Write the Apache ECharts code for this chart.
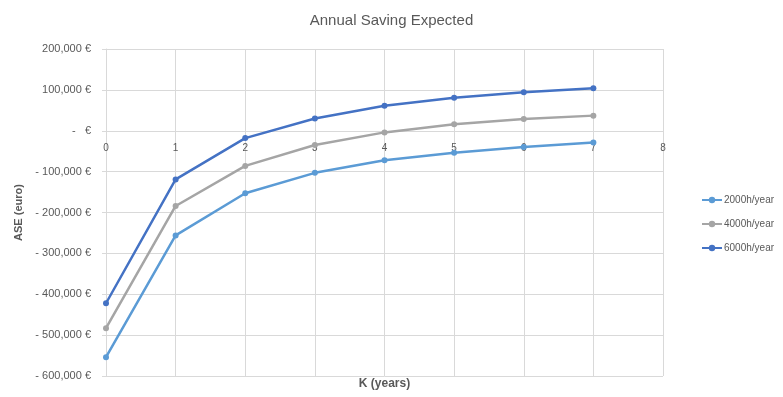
<!DOCTYPE html>
<html>
<head>
<meta charset="utf-8">
<script src="https://cdn.jsdelivr.net/npm/echarts@6/dist/echarts.min.js"></script>
<style>
  html, body { margin: 0; padding: 0; background: #fff; }
  #chart { width: 783px; height: 397px; }
</style>
</head>
<body>
<div id="chart"></div>
<script>
// Years of operation (K)
const years = [0, 1, 2, 3, 4, 5, 6, 7];

// Annual saving expected (euro) for each operating regime
const save2000 = [-554000, -256000, -153000, -103000, -72000, -54000, -40000, -29000];
const save4000 = [-483000, -184000, -86000, -35000, -4000, 16000, 29000, 37000];
const save6000 = [-422000, -119000, -18000, 30000, 61000, 81000, 94000, 104000];

const seriesNames = ['2000h/year', '4000h/year', '6000h/year'];
const seriesColors = ['#5B9BD5', '#A5A5A5', '#4472C4'];

// Value range of the saving axis
const Y_MIN = -600000;
const Y_MAX = 200000;
const Y_STEP = 100000;

const FONT = "'Liberation Sans', Arial, sans-serif";
const TEXT = '#595959';
const GRID = '#D9D9D9';

// Plot area edges in px
const W = 783, H = 397;
const PLOT = { left: 106, right: 120, top: 49, bottom: 21 };
const plotH = H - PLOT.top - PLOT.bottom;

// Lift the year axis from the bottom edge up to the zero line
const zeroOffset = -plotH * (0 - Y_MIN) / (Y_MAX - Y_MIN);

function euro(v) {
  if (v === 0) return '-   €';
  const s = Math.abs(v).toLocaleString('en-US');
  return (v < 0 ? '- ' : '') + s + ' €';
}

function pairs(vals) {
  return years.map((k, i) => [k, vals[i]]);
}

const chart = echarts.init(document.getElementById('chart'), null, { renderer: 'canvas' });

chart.setOption({
  animation: false,
  backgroundColor: '#fff',
  textStyle: { fontFamily: FONT },
  title: [
    {
      text: 'Annual Saving Expected',
      left: 'center',
      top: 8,
      textStyle: { fontFamily: FONT, fontSize: 15, fontWeight: 'normal', color: TEXT }
    },
    {
      // horizontal axis caption, centred under the plot area
      text: 'K (years)',
      left: (PLOT.left + (W - PLOT.right)) / 2,
      textAlign: 'center',
      top: 378,
      padding: 0,
      textStyle: { fontFamily: FONT, fontSize: 12, fontWeight: 'bold', color: TEXT }
    }
  ],
  legend: {
    orient: 'vertical',
    left: 696,
    top: 190,
    itemGap: 14,
    itemWidth: 20,
    itemHeight: 8,
    data: seriesNames,
    textStyle: { fontFamily: FONT, fontSize: 10, color: TEXT, padding: [0, 0, 0, -3] }
  },
  grid: { left: PLOT.left, right: PLOT.right, top: PLOT.top, bottom: PLOT.bottom, containLabel: false },
  xAxis: {
    type: 'value',
    min: 0,
    max: 8,
    interval: 1,
    position: 'bottom',
    offset: zeroOffset,
    z: 0,
    axisLine: { onZero: false, lineStyle: { color: GRID, width: 1 } },
    axisTick: { show: false },
    axisLabel: { color: TEXT, fontSize: 10, margin: 12, fontFamily: FONT },
    splitLine: { show: true, lineStyle: { color: GRID, width: 1 } }
  },
  yAxis: {
    type: 'value',
    min: Y_MIN,
    max: Y_MAX,
    interval: Y_STEP,
    name: 'ASE (euro)',
    nameLocation: 'middle',
    nameGap: 82,
    nameTextStyle: { fontFamily: FONT, fontSize: 11, fontWeight: 'bold', color: TEXT },
    axisLine: { show: true, onZero: false, lineStyle: { color: GRID } },
    axisTick: { show: true, length: 4, lineStyle: { color: GRID } },
    axisLabel: { color: TEXT, fontSize: 11, margin: 15, formatter: euro, fontFamily: FONT },
    splitLine: { show: true, lineStyle: { color: GRID, width: 1 } }
  },
  series: [save2000, save4000, save6000].map((vals, i) => ({
    name: seriesNames[i],
    type: 'line',
    z: 10,
    data: pairs(vals),
    color: seriesColors[i],
    symbol: 'circle',
    symbolSize: 6,
    lineStyle: { width: 2.5, color: seriesColors[i] },
    itemStyle: { color: seriesColors[i] }
  }))
});
</script>
</body>
</html>
